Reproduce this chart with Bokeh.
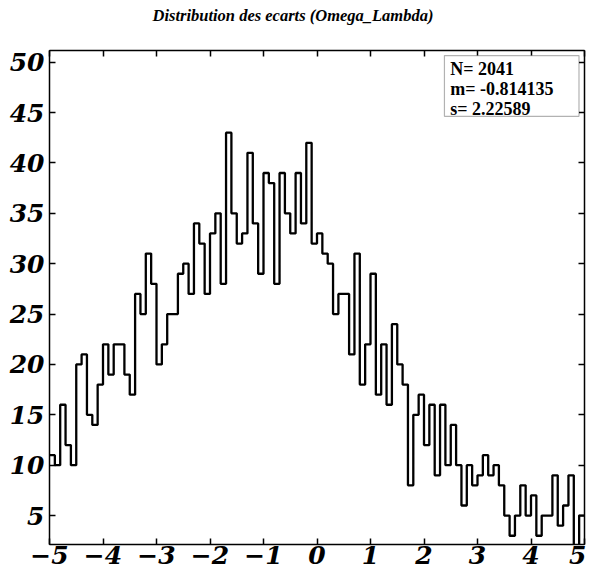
from bokeh.plotting import figure
from bokeh.models import Range1d, LinearAxis, FixedTicker, BoxAnnotation, Label
from bokeh.embed import file_html
from bokeh.resources import INLINE

# ---- data ----
bin_lo = -5.0
bin_hi = 5.0
counts = [11, 10, 16, 12, 10, 20, 21, 15, 14, 18,
          22, 19, 22, 22, 19, 17, 27, 25, 31, 28,
          20, 22, 25, 25, 29, 30, 27, 34, 32, 27,
          33, 35, 28, 43, 35, 32, 33, 41, 34, 29,
          39, 38, 28, 39, 35, 33, 39, 34, 42, 32,
          33, 31, 30, 25, 27, 27, 21, 31, 18, 22,
          29, 17, 22, 16, 24, 20, 18, 8, 15, 17,
          12, 16, 9, 16, 10, 14, 10, 6, 10, 8,
          9, 11, 9, 10, 8, 5, 3, 5, 8, 5,
          7, 3, 5, 5, 9, 4, 6, 9, 0, 5]
x_ticks = [-5, -4, -3, -2, -1, 0, 1, 2, 3, 4, 5]
y_ticks = [5, 10, 15, 20, 25, 30, 35, 40, 45, 50]
stats_lines = ["N= 2041", "m= -0.814135", "s= 2.22589"]
title_text = "Distribution des ecarts (Omega_Lambda)"

nbins = len(counts)
width = (bin_hi - bin_lo) / nbins
edges = [bin_lo + i * width for i in range(nbins + 1)]
step_y = counts + [counts[-1]]

FONT = "Liberation Serif"
TICK_FONT = "DejaVu Serif"

p = figure(width=586, height=578, output_backend="svg", toolbar_location=None,
           x_range=Range1d(-5, 5), y_range=Range1d(2.13, 51.16),
           min_border_left=49, min_border_right=2, min_border_top=48,
           min_border_bottom=34, background_fill_color="white",
           border_fill_color="white")
# trailing line break lifts the title higher above the frame, as in the reference
p.title.text = title_text + "\n"
p.title.align = "left"
p.title.offset = 103
p.title.vertical_align = "top"
p.title.text_font = FONT
p.title.text_font_style = "bold italic"
p.title.text_font_size = "16.5px"
p.title.text_color = "black"
p.title.standoff = 10
p.outline_line_color = "black"
p.xgrid.visible = False
p.ygrid.visible = False

for ax in [p.xaxis[0], p.yaxis[0]]:
    ax.major_tick_in = 6
    ax.major_tick_out = 0
    ax.minor_tick_line_color = None
    ax.axis_line_width = 1.5
    ax.major_tick_line_width = 1.5
    ax.major_label_text_font = TICK_FONT
    ax.major_label_text_font_style = "bold italic"
    ax.major_label_text_font_size = "25px"
    ax.major_label_text_color = "black"
p.xaxis.ticker = FixedTicker(ticks=x_ticks)
p.yaxis.ticker = FixedTicker(ticks=y_ticks)
p.xaxis.major_label_standoff = 1
p.yaxis.major_label_standoff = 5

# mirrored tick marks on the right and top edges of the frame (ROOT style)
ax_r = LinearAxis(ticker=FixedTicker(ticks=y_ticks),
                  major_label_overrides={t: "" for t in y_ticks},
                  major_label_text_color=None,
                  major_tick_in=6, major_tick_out=0, minor_tick_line_color=None,
                  major_label_standoff=0, axis_line_width=1.5, major_tick_line_width=1.5)
ax_t = LinearAxis(ticker=FixedTicker(ticks=x_ticks),
                  major_label_overrides={t: "" for t in x_ticks},
                  major_label_text_color=None,
                  major_tick_in=6, major_tick_out=0, minor_tick_line_color=None,
                  major_label_standoff=0, axis_line_width=1.5, major_tick_line_width=1.5)
p.add_layout(ax_r, "right")
p.add_layout(ax_t, "above")

p.step(x=edges, y=step_y, mode="after", line_color="black", line_width=2.3)

# stats box
box = BoxAnnotation(left=2.382, right=4.897, top=50.66, bottom=44.63,
                    fill_color="white", fill_alpha=1.0, line_color="black", line_width=1.2)
p.add_layout(box)
for txt, yy in zip(stats_lines, [49.31, 47.33, 45.35]):
    p.add_layout(Label(x=2.49, y=yy, text=txt, text_font=FONT, text_font_style="bold",
                       text_font_size="18px", text_baseline="middle", text_align="left",
                       text_color="black"))

open("out.html", "w").write(file_html(p, INLINE))
